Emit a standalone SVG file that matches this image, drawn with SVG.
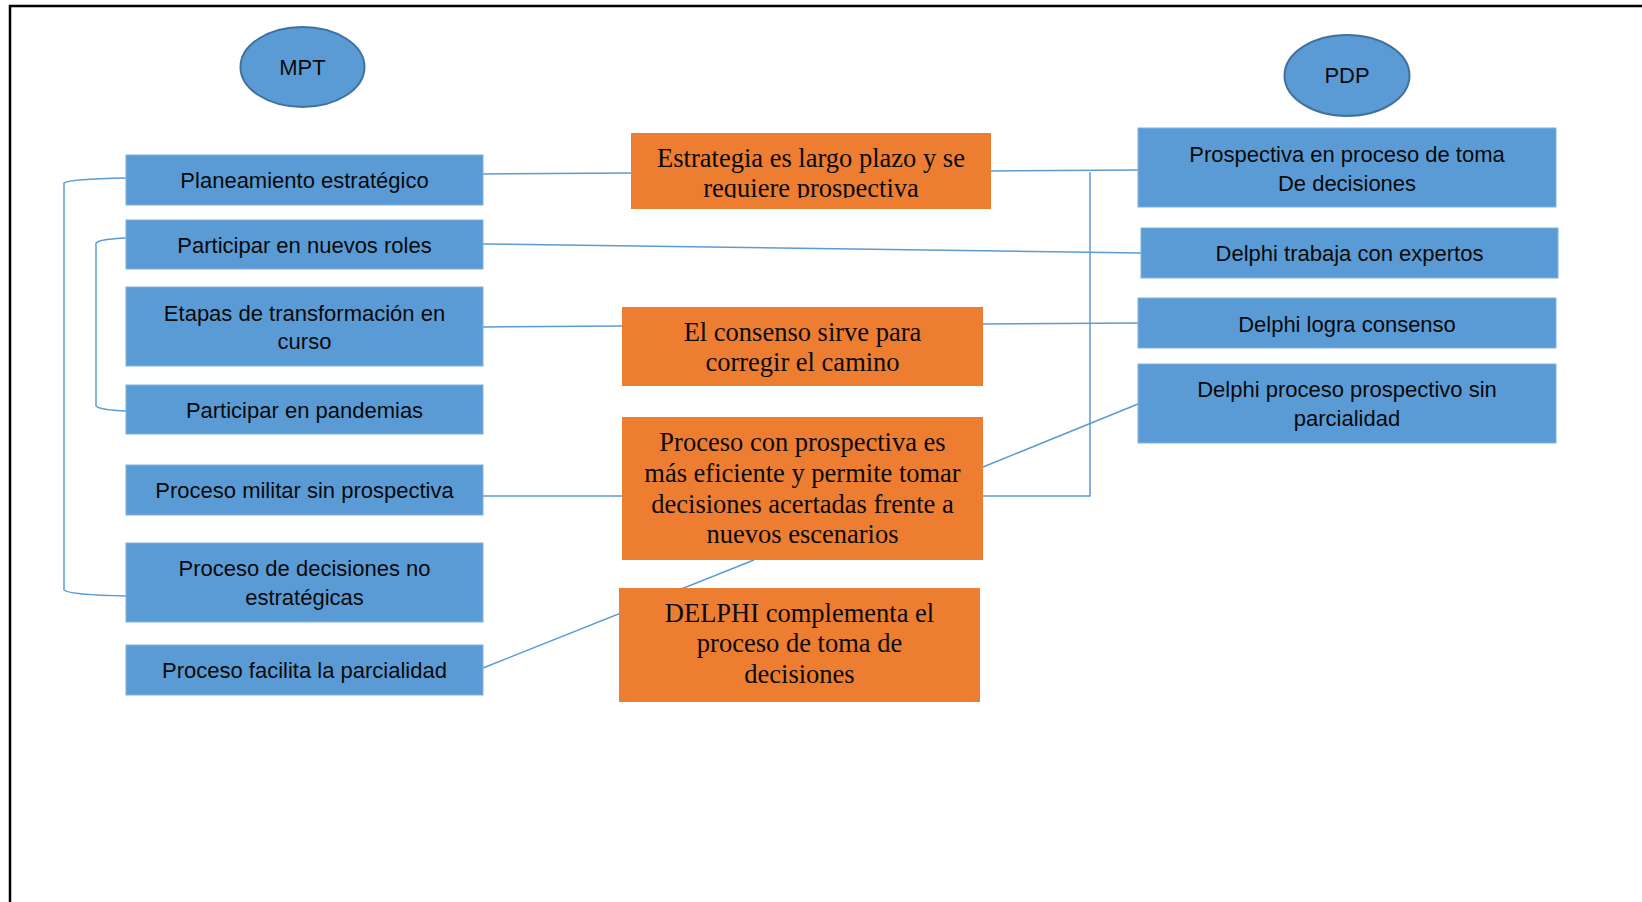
<svg xmlns="http://www.w3.org/2000/svg" width="1642" height="902" viewBox="0 0 1642 902">
<style>
.frame{fill:none;stroke:#000;stroke-width:2.5}
.bb{fill:#5B9BD5;stroke:#7FB1E0;stroke-width:1}
.ob{fill:#ED7D31}
.el{fill:#5B9BD5;stroke:#41719C;stroke-width:2}
.bt{font-family:"Liberation Sans",Arial,sans-serif;font-size:22px;fill:#0a0a0a;text-anchor:middle}
.ot{font-family:"Liberation Serif","Times New Roman",serif;font-size:26.5px;fill:#0a0a0a;text-anchor:middle}
.cn{fill:none;stroke:#5B9BD5;stroke-width:1.5}
</style>
<defs>
<clipPath id="clipE"><rect x="631" y="133" width="360" height="65"/></clipPath>
</defs>
<rect width="1642" height="902" fill="#fff"/>
<rect class="frame" x="10" y="6" width="1700" height="1000"/>

<g id="connectors">
<path class="cn" d="M483,174 L631,173"/>
<path class="cn" d="M991,171 L1138,170"/>
<path class="cn" d="M483,244 L1141,253"/>
<path class="cn" d="M483,327 L622,326"/>
<path class="cn" d="M983,324 L1138,323"/>
<path class="cn" d="M1090,172 L1090,496 L983,496"/>
<path class="cn" d="M483,496 L622,496"/>
<path class="cn" d="M983,467 L1138,404"/>
<path class="cn" d="M483,668 L754,560"/>
<path class="cn" d="M126,178 Q70,179 64,183 L64,590 Q70,595 126,596"/>
<path class="cn" d="M126,238 Q100,239 96,243 L96,406 Q100,410 126,411"/>
</g>

<g id="mpt"><ellipse class="el" cx="302.5" cy="67" rx="62" ry="40"/><text class="bt" x="302.5" y="75">MPT</text></g>
<g id="pdp"><ellipse class="el" cx="1347" cy="75.5" rx="62.5" ry="40.5"/><text class="bt" x="1347" y="83">PDP</text></g>

<g id="n-planeamiento"><rect class="bb" x="126" y="155" width="357" height="50"/><text class="bt" x="304.5" y="188">Planeamiento estratégico</text></g>
<g id="n-roles"><rect class="bb" x="126" y="220" width="357" height="49"/><text class="bt" x="304.5" y="253">Participar en nuevos roles</text></g>
<g id="n-etapas"><rect class="bb" x="126" y="287" width="357" height="79"/><text class="bt" x="304.5" y="321">Etapas de transformación en</text><text class="bt" x="304.5" y="349">curso</text></g>
<g id="n-pandemias"><rect class="bb" x="126" y="385" width="357" height="49"/><text class="bt" x="304.5" y="418">Participar en pandemias</text></g>
<g id="n-militar"><rect class="bb" x="126" y="465" width="357" height="50"/><text class="bt" x="304.5" y="498">Proceso militar sin prospectiva</text></g>
<g id="n-decisiones"><rect class="bb" x="126" y="543" width="357" height="79"/><text class="bt" x="304.5" y="576">Proceso de decisiones no</text><text class="bt" x="304.5" y="605">estratégicas</text></g>
<g id="n-facilita"><rect class="bb" x="126" y="645" width="357" height="50"/><text class="bt" x="304.5" y="678">Proceso facilita la parcialidad</text></g>

<g id="o-estrategia"><rect class="ob" x="631" y="133" width="360" height="76"/><g clip-path="url(#clipE)"><text class="ot" x="811" y="167">Estrategia es largo plazo y se</text><text class="ot" x="811" y="197">requiere prospectiva</text></g></g>
<g id="o-consenso"><rect class="ob" x="622" y="307" width="361" height="79"/><text class="ot" x="802.5" y="341">El consenso sirve para</text><text class="ot" x="802.5" y="371">corregir el camino</text></g>
<g id="o-proceso"><rect class="ob" x="622" y="417" width="361" height="143"/><text class="ot" x="802.5" y="451">Proceso con prospectiva es</text><text class="ot" x="802.5" y="482">más eficiente y permite tomar</text><text class="ot" x="802.5" y="513">decisiones acertadas frente a</text><text class="ot" x="802.5" y="543">nuevos escenarios</text></g>
<g id="o-delphi"><rect class="ob" x="619" y="588" width="361" height="114"/><text class="ot" x="799.5" y="622">DELPHI complementa el</text><text class="ot" x="799.5" y="652">proceso de toma de</text><text class="ot" x="799.5" y="683">decisiones</text></g>

<g id="r-prospectiva"><rect class="bb" x="1138" y="128" width="418" height="79"/><text class="bt" x="1347" y="162">Prospectiva en proceso de toma</text><text class="bt" x="1347" y="191">De decisiones</text></g>
<g id="r-trabaja"><rect class="bb" x="1141" y="228" width="417" height="50"/><text class="bt" x="1349.5" y="261">Delphi trabaja con expertos</text></g>
<g id="r-logra"><rect class="bb" x="1138" y="298" width="418" height="50"/><text class="bt" x="1347" y="332">Delphi logra consenso</text></g>
<g id="r-sinparcialidad"><rect class="bb" x="1138" y="364" width="418" height="79"/><text class="bt" x="1347" y="397">Delphi proceso prospectivo sin</text><text class="bt" x="1347" y="426">parcialidad</text></g>
</svg>
